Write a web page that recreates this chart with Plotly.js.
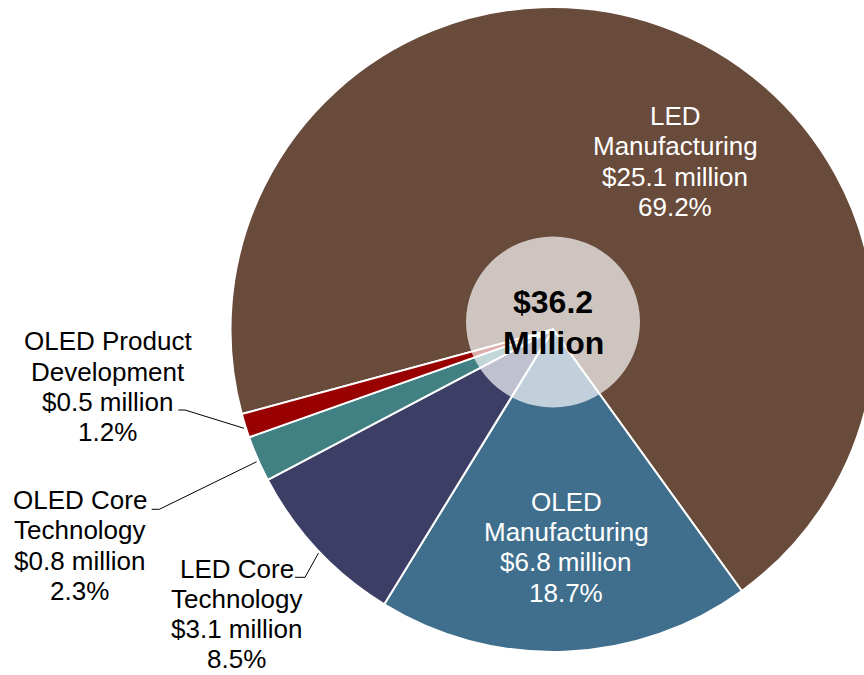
<!DOCTYPE html>
<html>
<head>
<meta charset="utf-8">
<script src="https://cdn.plot.ly/plotly-3.0.1.min.js"></script>
<style>
  html, body { margin:0; padding:0; overflow:hidden; background:#ffffff; }
  #wrap { width:864px; height:675px; overflow:hidden; }
  #chart { width:900px; height:675px; }
</style>
</head>
<body>
<div id="wrap"><div id="chart"></div></div>
<script>
// ---- data ----
const categories = ["LED Manufacturing", "OLED Manufacturing", "LED Core Technology", "OLED Core Technology", "OLED Product Development"];
const nameLines = [["LED", "Manufacturing"], ["OLED", "Manufacturing"], ["LED Core", "Technology"], ["OLED Core", "Technology"], ["OLED Product", "Development"]];
const amountsMillion = [25.1, 6.8, 3.1, 0.8, 0.5];
const sharePercent = [69.2, 18.7, 8.5, 2.3, 1.2];
const totalMillion = 36.2;

// ---- styles / layout ----
const sliceColors = ["#694b3b", "#3f6f8d", "#3d3e66", "#418083", "#990000"];
const labelColors = ["#ffffff", "#ffffff", "#000000", "#000000", "#000000"];
// label anchor in pixels: centre x, first baseline y, line step
const labelPos = [
  {cx: 675, by: 125, step: 30.4},
  {cx: 566, by: 510.7, step: 30.3},
  {cx: 237, by: 578.3, step: 30.0},
  {cx: 79.5, by: 509, step: 30.3},
  {cx: 107.5, by: 350.5, step: 30.1}
];
// leader lines in pixels (for the outside labels)
const leaders = [
  null, null,
  [[295, 577.3], [305, 577.3], [318.5, 553]],
  [[151.7, 509.3], [159.3, 509.3], [256.7, 461.7]],
  [[178.3, 410], [185, 410], [244, 428.3]]
];

const W = 900, H = 675;
const X = px => px / W;
const Y = py => 1 - py / H;
const FONT = "Liberation Sans, Arial, Helvetica, sans-serif";
const FS = 26, FSB = 32;

const annotations = [];
categories.forEach((c, i) => {
  const lines = nameLines[i].concat(["$" + amountsMillion[i].toFixed(1) + " million", sharePercent[i].toFixed(1) + "%"]);
  const p = labelPos[i];
  lines.forEach((t, k) => {
    annotations.push({
      xref: "paper", yref: "paper", x: X(p.cx), y: Y(p.by + k * p.step - 0.3465 * FS),
      xanchor: "center", yanchor: "middle", showarrow: false, text: t,
      font: {family: FONT, size: FS, color: labelColors[i]}
    });
  });
});
// centre total
["$" + totalMillion.toFixed(1), "Million"].forEach((t, k) => {
  annotations.push({
    xref: "paper", yref: "paper", x: X(553), y: Y([313.3, 354][k] - 0.3465 * FSB),
    xanchor: "center", yanchor: "middle", showarrow: false, text: "<b>" + t + "</b>",
    font: {family: FONT, size: FSB, color: "#000000"}
  });
});

const shapes = [{
  type: "circle", xref: "paper", yref: "paper", layer: "above",
  x0: X(553 - 87), x1: X(553 + 87), y0: Y(322 + 85.5), y1: Y(322 - 85.5),
  fillcolor: "rgba(255,255,255,0.68)", line: {width: 0}
}];
leaders.forEach(l => {
  if (!l) return;
  const d = l.map((pt, k) => (k ? "L" : "M") + X(pt[0]) + "," + Y(pt[1])).join(" ");
  shapes.push({type: "path", xref: "paper", yref: "paper", layer: "above", path: d, line: {color: "#000000", width: 1}});
});

const trace = {
  type: "pie",
  labels: categories,
  values: sharePercent,
  sort: false,
  direction: "clockwise",
  rotation: 254.8,
  textinfo: "none",
  hoverinfo: "skip",
  marker: {colors: sliceColors, line: {color: "#ffffff", width: 2}},
  domain: {x: [X(230.5), X(875.5)], y: [Y(652), Y(7)]},
  showlegend: false
};

const layout = {
  width: W, height: H,
  margin: {l: 0, r: 0, t: 0, b: 0},
  paper_bgcolor: "#ffffff",
  showlegend: false,
  annotations: annotations,
  shapes: shapes,
  hovermode: false
};

Plotly.newPlot("chart", [trace], layout, {displayModeBar: false, staticPlot: true});
</script>
</body>
</html>
